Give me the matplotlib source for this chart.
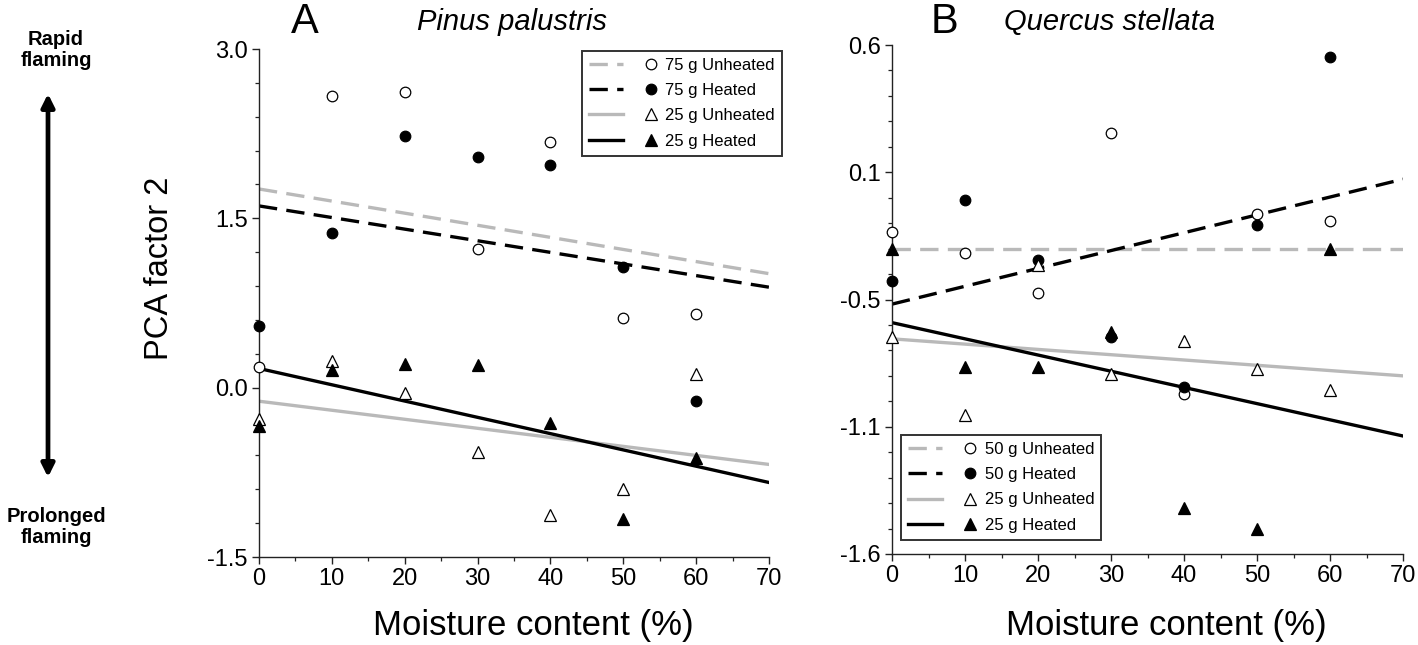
import matplotlib
matplotlib.use("Agg")
import matplotlib.pyplot as plt
import numpy as np
from matplotlib.lines import Line2D
from matplotlib.legend_handler import HandlerTuple
from matplotlib.patches import FancyArrowPatch

plt.rcParams['font.family'] = ['Liberation Sans', 'DejaVu Sans']

# ---------------- data ----------------
moisture = [0, 10, 20, 30, 40, 50, 60]
line_x = [0, 70]

# Panel A: Pinus palustris
a_labels = ["75 g Unheated", "75 g Heated", "25 g Unheated", "25 g Heated"]
a_75_unheated = [0.18, 2.58, 2.62, 1.23, 2.18, 0.62, 0.65]
a_75_heated = [0.55, 1.37, 2.23, 2.04, 1.97, 1.07, -0.12]
a_25_unheated = [-0.28, 0.24, -0.05, -0.57, -1.13, -0.90, 0.12]
a_25_heated = [-0.34, 0.16, 0.21, 0.20, -0.31, -1.16, -0.62]
a_fit_start = [1.76, 1.61, -0.12, 0.17]   # fitted value at 0 %
a_fit_end = [1.01, 0.89, -0.68, -0.84]    # fitted value at 70 %
a_yticks = [3.0, 1.5, 0.0, -1.5]
a_yticklabels = ["3.0", "1.5", "0.0", "-1.5"]

# Panel B: Quercus stellata
b_labels = ["50 g Unheated", "50 g Heated", "25 g Unheated", "25 g Heated"]
b_50_unheated = [-0.21, -0.30, -0.47, 0.22, -0.91, -0.13, -0.16]
b_50_heated = [-0.42, -0.07, -0.33, -0.66, -0.88, -0.18, 0.55]
b_25_unheated = [-0.66, -1.00, -0.35, -0.82, -0.68, -0.80, -0.89]
b_25_heated = [-0.28, -0.79, -0.79, -0.64, -1.40, -1.49, -0.28]
b_fit_start = [-0.28, -0.52, -0.67, -0.60]
b_fit_end = [-0.28, 0.02, -0.83, -1.09]
b_yticks = [0.6, 0.05, -0.5, -1.05, -1.6]
b_yticklabels = ["0.6", "0.1", "-0.5", "-1.1", "-1.6"]

xticks = [0, 10, 20, 30, 40, 50, 60, 70]

# ---------------- styles ----------------
GREY = "#b9b9b9"
line_styles = [
    dict(color=GREY, ls=(0, (5.5, 2.8))),
    dict(color="black", ls=(0, (5.5, 2.8))),
    dict(color=GREY, ls="-"),
    dict(color="black", ls="-"),
]
marker_styles = [
    dict(marker="o", mfc="white", mec="black", ms=7.6),
    dict(marker="o", mfc="black", mec="black", ms=7.6),
    dict(marker="^", mfc="white", mec="black", ms=8.6),
    dict(marker="^", mfc="black", mec="black", ms=8.6),
]

fig = plt.figure(figsize=(14.18, 6.45), dpi=100)
W, H = 1418, 645


def px_axes(l, r, t, b):
    return fig.add_axes([l / W, 1 - b / H, (r - l) / W, (b - t) / H])


axA = px_axes(259, 769, 49, 557)
axB = px_axes(892, 1403, 45, 554)


def draw_panel(ax, series, starts, ends, labels, ylim, yticks, yticklabels,
               minor_step, legend_kw):
    handles = []
    for i, ys in enumerate(series):
        ax.plot(line_x, [starts[i], ends[i]], lw=2.4, zorder=2,
                **line_styles[i])
        ax.plot(moisture, ys, ls="none", mew=0.9, zorder=3,
                clip_on=False, **marker_styles[i])
        lh = Line2D([], [], lw=2.4, **line_styles[i])
        mh = Line2D([], [], ls="none", mew=0.9, **marker_styles[i])
        handles.append((lh, mh))
    ax.set_xlim(0, 70)
    ax.set_ylim(*ylim)
    ax.set_xticks(xticks)
    ax.set_xticks(np.arange(5, 70, 10), minor=True)
    ax.set_yticks(yticks)
    ax.set_yticklabels(yticklabels)
    ax.set_yticks(np.arange(ylim[0], ylim[1] + 1e-9, minor_step), minor=True)
    for s in ["top", "right"]:
        ax.spines[s].set_visible(False)
    for s in ["left", "bottom"]:
        ax.spines[s].set_linewidth(1.0)
        ax.spines[s].set_color("#222222")
    ax.tick_params(which="major", direction="out", length=5, width=1.0,
                   labelsize=17, pad=3, color="#222222")
    ax.tick_params(which="minor", direction="out", length=3, width=0.9,
                   color="#222222")
    leg = ax.legend(handles, labels,
                    handler_map={tuple: HandlerTuple(ndivide=None, pad=0.66)},
                    fontsize=12, frameon=True, fancybox=False,
                    edgecolor="black", borderpad=0.42, labelspacing=0.62,
                    handlelength=4.75, handletextpad=-0.15, borderaxespad=0,
                    **legend_kw)
    leg.get_frame().set_linewidth(1.4)
    leg.set_zorder(5)


draw_panel(axA, [a_75_unheated, a_75_heated, a_25_unheated, a_25_heated],
           a_fit_start, a_fit_end, a_labels, (-1.5, 3.0), a_yticks,
           a_yticklabels, 0.3,
           dict(loc="upper left", bbox_to_anchor=(0.633, 0.997)))
draw_panel(axB, [b_50_unheated, b_50_heated, b_25_unheated, b_25_heated],
           b_fit_start, b_fit_end, b_labels, (-1.6, 0.6), b_yticks,
           b_yticklabels, 0.11,
           dict(loc="lower left", bbox_to_anchor=(0.018, 0.028)))

# x labels
for ax in (axA, axB):
    pos = ax.get_position()
    fig.text(pos.x0 + pos.width / 2 + 19 / W, 1 - 625 / H,
             "Moisture content (%)", fontsize=25, ha="center", va="center")

# y label
fig.text(160 / W, 1 - 268 / H, "PCA factor 2", fontsize=23.5, rotation=90,
         ha="center", va="center")

# panel titles
fig.text(305 / W, 1 - 22 / H, "A", fontsize=30, ha="center", va="center")
fig.text(512 / W, 1 - 22 / H, "Pinus palustris", fontsize=21, style="italic",
         ha="center", va="center")
fig.text(945 / W, 1 - 22 / H, "B", fontsize=30, ha="center", va="center")
fig.text(1110 / W, 1 - 22 / H, "Quercus stellata", fontsize=21,
         style="italic", ha="center", va="center")

# left annotation
fig.text(56 / W, 1 - 50 / H, "Rapid\nflaming", fontsize=14.5,
         fontweight="bold", ha="center", va="center", linespacing=1.15)
fig.text(56 / W, 1 - 527 / H, "Prolonged\nflaming", fontsize=14.5,
         fontweight="bold", ha="center", va="center", linespacing=1.15)
arrow = FancyArrowPatch((48 / W, 1 - 480 / H), (48 / W, 1 - 91 / H),
                        transform=fig.transFigure, arrowstyle="<|-|>",
                        mutation_scale=19, lw=3.4, color="black")
fig.patches.append(arrow)

fig.savefig("out.png", dpi=100)
